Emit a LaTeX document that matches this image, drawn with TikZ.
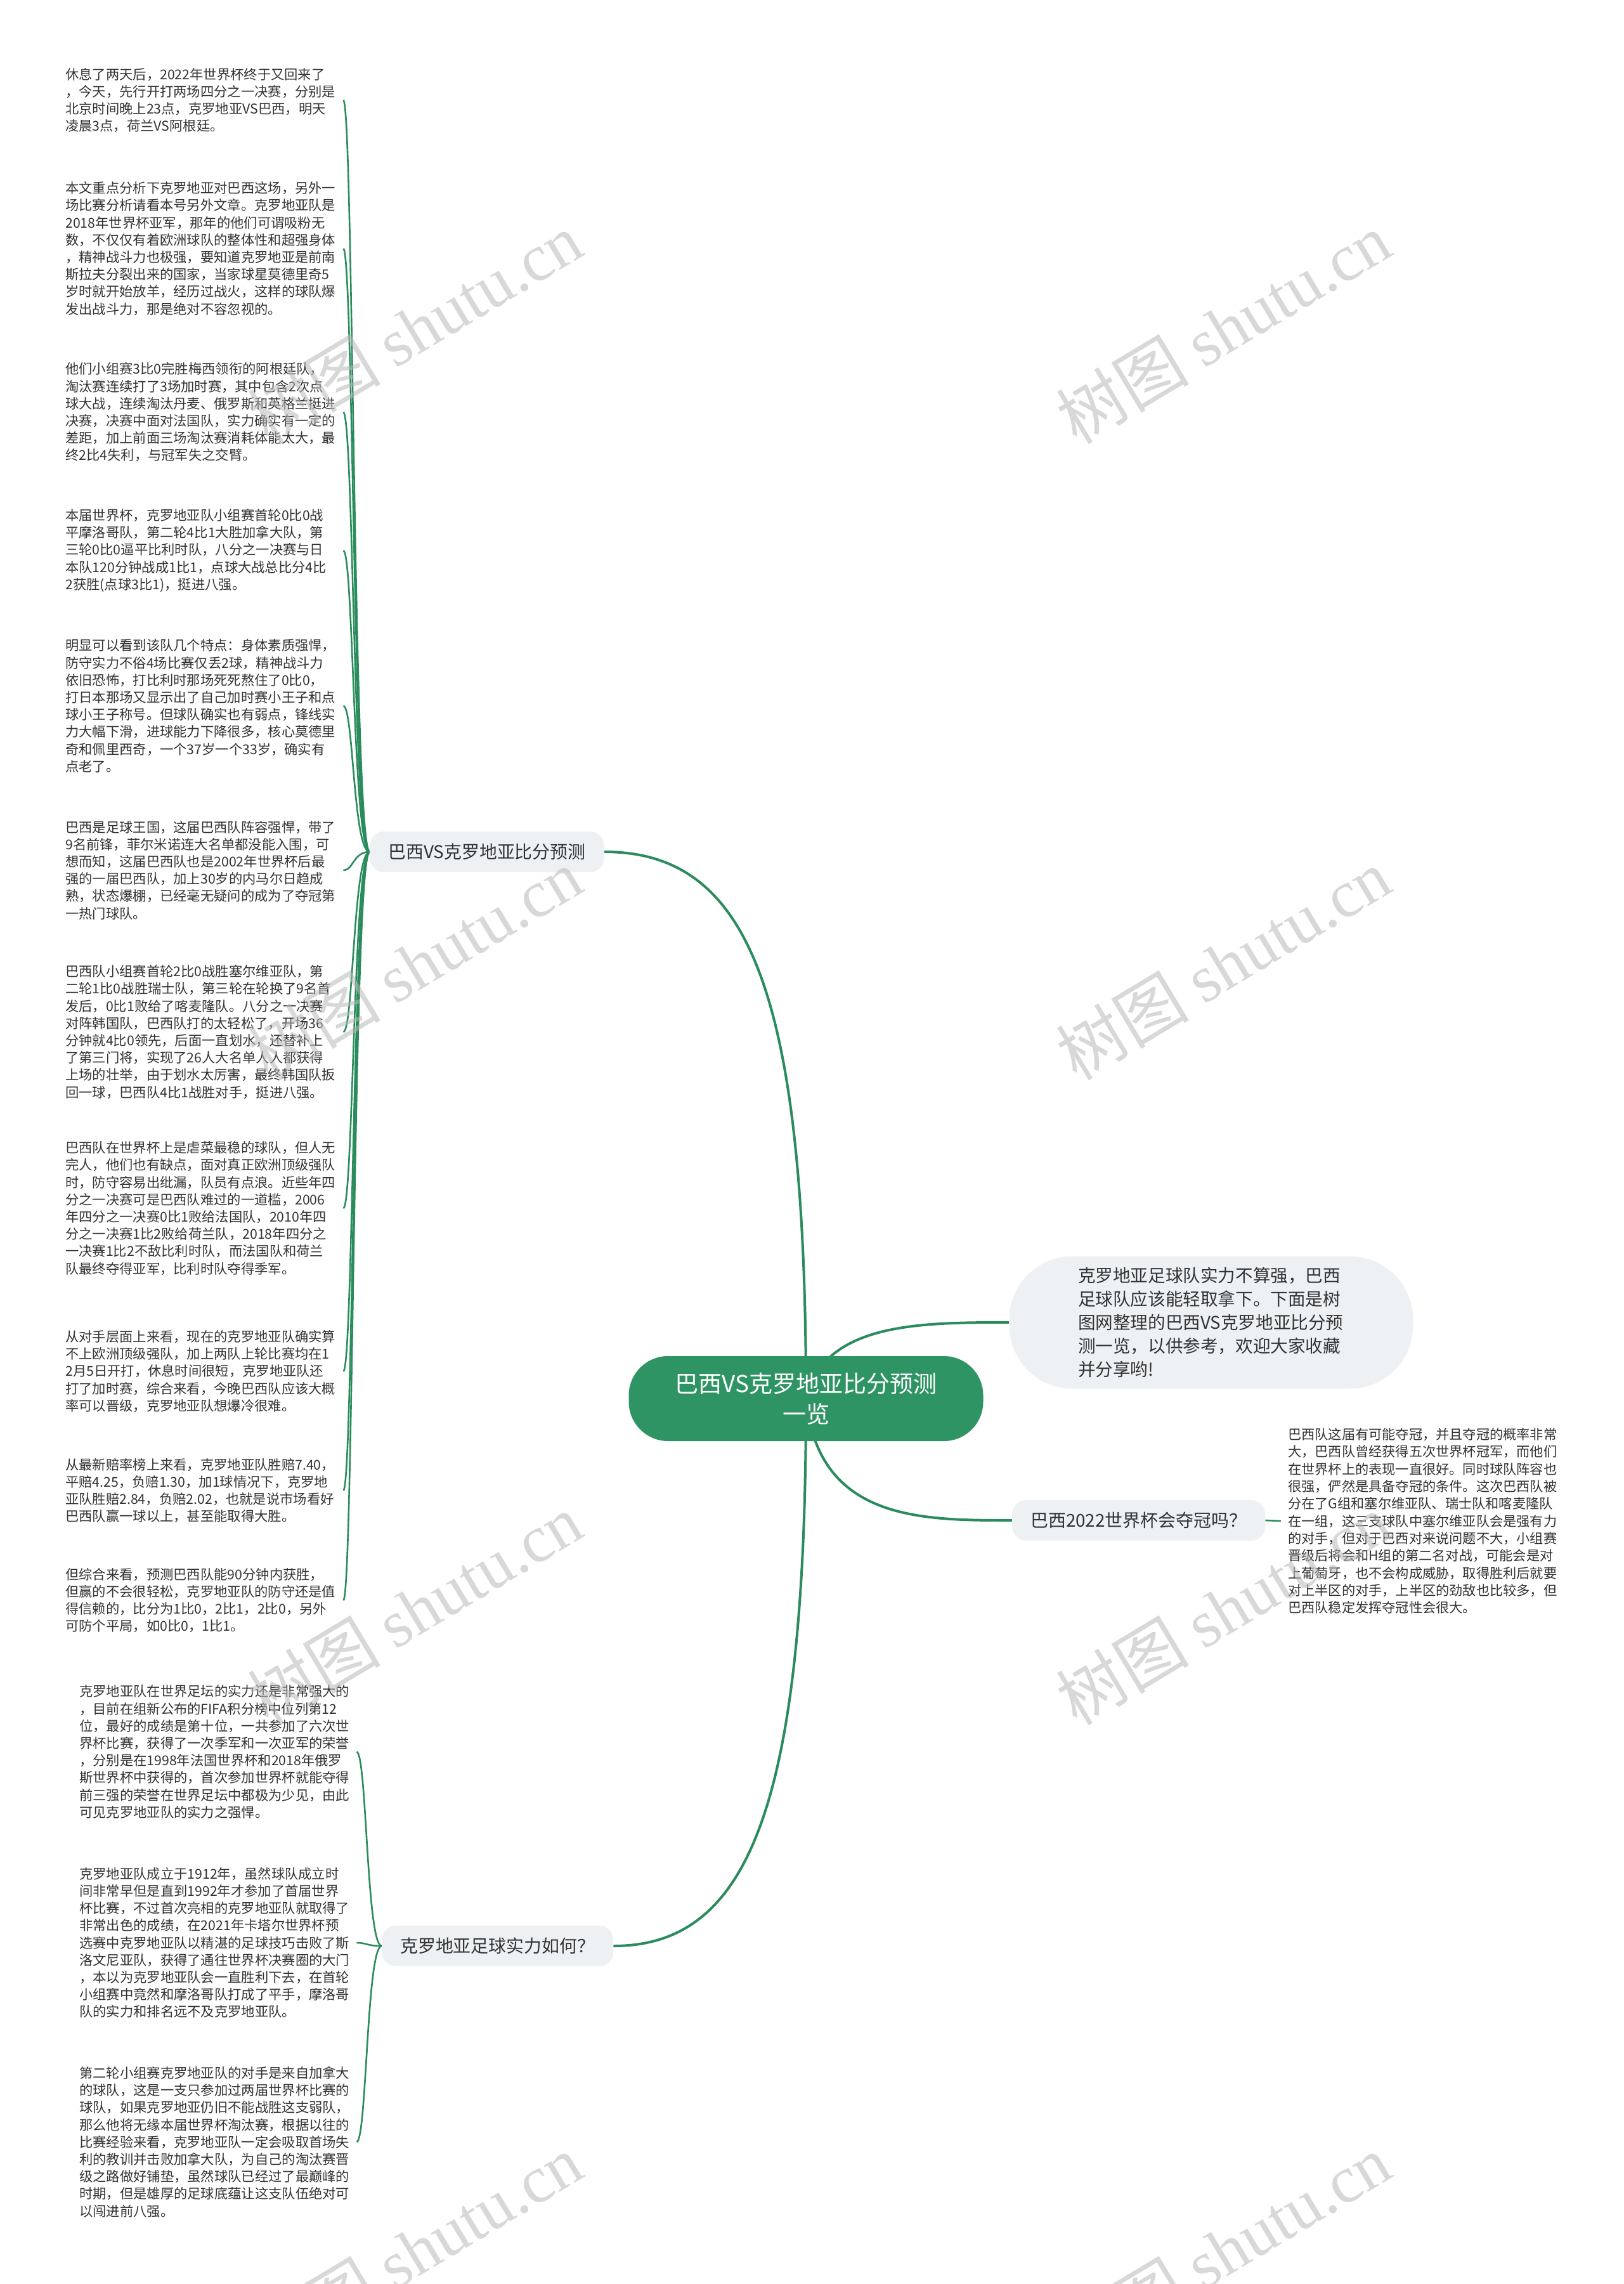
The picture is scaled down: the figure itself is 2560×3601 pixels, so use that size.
\documentclass[tikz,border=0pt]{standalone}
\usepackage{fontspec}
\setmainfont{Noto Sans CJK SC}
\newfontfamily\wmserif{Liberation Serif}
\definecolor{mmgreen}{HTML}{2E9464}
\definecolor{mmline}{HTML}{2A8C5C}
\definecolor{mmgray}{HTML}{EEF1F4}
\definecolor{mmtext}{HTML}{333333}
\definecolor{wmgray}{HTML}{B8B8B8}
\pgfdeclarelayer{bg}
\pgfsetlayers{bg,main}
\begin{document}
\begin{tikzpicture}[x=1pt,y=-1pt,
  leaf/.style={anchor=west, inner sep=0pt, text width=438pt, align=left, font=\fontsize{21.3}{27.2}\selectfont, text=mmtext},
  leafb/.style={leaf, text width=437pt},
  branchbox/.style={fill=mmgray, rounded corners=22pt, minimum height=64pt, inner xsep=29pt, inner ysep=0pt, font=\fontsize{27.9}{34}\selectfont, text=mmtext},
  mainlink/.style={draw=mmline, line width=4pt},
  leaflink/.style={draw=mmline, line width=2.6pt},
  wm/.style={text=wmgray, opacity=0.55, rotate=31, inner sep=0pt, font=\fontsize{105}{110}\selectfont}
]
\begin{pgfonlayer}{bg}
\fill[white] (0,0) rectangle (2560,3601);
\end{pgfonlayer}
\useasboundingbox (0,0) rectangle (2560,3601);

% root and intro
\node[fill=mmgreen, rounded corners=62pt, minimum width=559pt, minimum height=134pt, inner sep=0pt, text=white, align=center, font=\fontsize{37}{48}\selectfont] (root) at (1271,2205) {巴西VS克罗地亚比分预测\\一览};
\node[fill=mmgray, rounded corners=100pt, minimum width=637pt, minimum height=209pt, inner sep=0pt, text width=420pt, align=left, text=mmtext, font=\fontsize{27.6}{36.8}\selectfont] (intro) at (1910,2085) {克罗地亚足球队实力不算强，巴西\\足球队应该能轻取拿下。下面是树\\图网整理的巴西VS克罗地亚比分预\\测一览，以供参考，欢迎大家收藏\\并分享哟!};

% branches
\node[branchbox, anchor=west] (b1) at (583,1343) {巴西VS克罗地亚比分预测};
\node[branchbox, anchor=west] (b2) at (1596,2397) {巴西2022世界杯会夺冠吗？};
\node[branchbox, anchor=west] (b3) at (602,3068) {克罗地亚足球实力如何？};

% branch 1 leaves
\node[leaf] (l1) at (103,158) {休息了两天后，2022年世界杯终于又回来了\\，今天，先行开打两场四分之一决赛，分别是\\北京时间晚上23点，克罗地亚VS巴西，明天\\凌晨3点，荷兰VS阿根廷。};
\node[leaf] (l2) at (103,392) {本文重点分析下克罗地亚对巴西这场，另外一\\场比赛分析请看本号另外文章。克罗地亚队是\\2018年世界杯亚军，那年的他们可谓吸粉无\\数，不仅仅有着欧洲球队的整体性和超强身体\\，精神战斗力也极强，要知道克罗地亚是前南\\斯拉夫分裂出来的国家，当家球星莫德里奇5\\岁时就开始放羊，经历过战火，这样的球队爆\\发出战斗力，那是绝对不容忽视的。};
\node[leaf] (l3) at (103,650) {他们小组赛3比0完胜梅西领衔的阿根廷队，\\淘汰赛连续打了3场加时赛，其中包含2次点\\球大战，连续淘汰丹麦、俄罗斯和英格兰挺进\\决赛，决赛中面对法国队，实力确实有一定的\\差距，加上前面三场淘汰赛消耗体能太大，最\\终2比4失利，与冠军失之交臂。};
\node[leaf] (l4) at (103,868) {本届世界杯，克罗地亚队小组赛首轮0比0战\\平摩洛哥队，第二轮4比1大胜加拿大队，第\\三轮0比0逼平比利时队，八分之一决赛与日\\本队120分钟战成1比1，点球大战总比分4比\\2获胜(点球3比1)，挺进八强。};
\node[leaf] (l5) at (103,1113) {明显可以看到该队几个特点：身体素质强悍，\\防守实力不俗4场比赛仅丢2球，精神战斗力\\依旧恐怖，打比利时那场死死熬住了0比0，\\打日本那场又显示出了自己加时赛小王子和点\\球小王子称号。但球队确实也有弱点，锋线实\\力大幅下滑，进球能力下降很多，核心莫德里\\奇和佩里西奇，一个37岁一个33岁，确实有\\点老了。};
\node[leaf] (l6) at (103,1372) {巴西是足球王国，这届巴西队阵容强悍，带了\\9名前锋，菲尔米诺连大名单都没能入围，可\\想而知，这届巴西队也是2002年世界杯后最\\强的一届巴西队，加上30岁的内马尔日趋成\\熟，状态爆棚，已经毫无疑问的成为了夺冠第\\一热门球队。};
\node[leaf] (l7) at (103,1627) {巴西队小组赛首轮2比0战胜塞尔维亚队，第\\二轮1比0战胜瑞士队，第三轮在轮换了9名首\\发后，0比1败给了喀麦隆队。八分之一决赛\\对阵韩国队，巴西队打的太轻松了，开场36\\分钟就4比0领先，后面一直划水，还替补上\\了第三门将，实现了26人大名单人人都获得\\上场的壮举，由于划水太厉害，最终韩国队扳\\回一球，巴西队4比1战胜对手，挺进八强。};
\node[leaf] (l8) at (103,1905) {巴西队在世界杯上是虐菜最稳的球队，但人无\\完人，他们也有缺点，面对真正欧洲顶级强队\\时，防守容易出纰漏，队员有点浪。近些年四\\分之一决赛可是巴西队难过的一道槛，2006\\年四分之一决赛0比1败给法国队，2010年四\\分之一决赛1比2败给荷兰队，2018年四分之\\一决赛1比2不敌比利时队，而法国队和荷兰\\队最终夺得亚军，比利时队夺得季军。};
\node[leaf] (l9) at (103,2162) {从对手层面上来看，现在的克罗地亚队确实算\\不上欧洲顶级强队，加上两队上轮比赛均在1\\2月5日开打，休息时间很短，克罗地亚队还\\打了加时赛，综合来看，今晚巴西队应该大概\\率可以晋级，克罗地亚队想爆冷很难。};
\node[leaf] (l10) at (103,2350) {从最新赔率榜上来看，克罗地亚队胜赔7.40，\\平赔4.25，负赔1.30，加1球情况下，克罗地\\亚队胜赔2.84，负赔2.02，也就是说市场看好\\巴西队赢一球以上，甚至能取得大胜。};
\node[leaf] (l11) at (103,2523) {但综合来看，预测巴西队能90分钟内获胜，\\但赢的不会很轻松，克罗地亚队的防守还是值\\得信赖的，比分为1比0，2比1，2比0，另外\\可防个平局，如0比0，1比1。};

% branch 2 leaf
\node[anchor=west, inner xsep=11pt, inner ysep=0pt, align=left, font=\fontsize{21.2}{27.3}\selectfont, text=mmtext] (r1) at (2020,2398) {巴西队这届有可能夺冠，并且夺冠的概率非常\\大，巴西队曾经获得五次世界杯冠军，而他们\\在世界杯上的表现一直很好。同时球队阵容也\\很强，俨然是具备夺冠的条件。这次巴西队被\\分在了G组和塞尔维亚队、瑞士队和喀麦隆队\\在一组，这三支球队中塞尔维亚队会是强有力\\的对手，但对于巴西对来说问题不大，小组赛\\晋级后将会和H组的第二名对战，可能会是对\\上葡萄牙，也不会构成威胁，取得胜利后就要\\对上半区的对手，上半区的劲敌也比较多，但\\巴西队稳定发挥夺冠性会很大。};

% branch 3 leaves
\node[leafb] (m1) at (125,2762) {克罗地亚队在世界足坛的实力还是非常强大的\\，目前在组新公布的FIFA积分榜中位列第12\\位，最好的成绩是第十位，一共参加了六次世\\界杯比赛，获得了一次季军和一次亚军的荣誉\\，分别是在1998年法国世界杯和2018年俄罗\\斯世界杯中获得的，首次参加世界杯就能夺得\\前三强的荣誉在世界足坛中都极为少见，由此\\可见克罗地亚队的实力之强悍。};
\node[leafb] (m2) at (125,3063) {克罗地亚队成立于1912年，虽然球队成立时\\间非常早但是直到1992年才参加了首届世界\\杯比赛，不过首次亮相的克罗地亚队就取得了\\非常出色的成绩，在2021年卡塔尔世界杯预\\选赛中克罗地亚队以精湛的足球技巧击败了斯\\洛文尼亚队，获得了通往世界杯决赛圈的大门\\，本以为克罗地亚队会一直胜利下去，在首轮\\小组赛中竟然和摩洛哥队打成了平手，摩洛哥\\队的实力和排名远不及克罗地亚队。};
\node[leafb] (m3) at (125,3377) {第二轮小组赛克罗地亚队的对手是来自加拿大\\的球队，这是一支只参加过两届世界杯比赛的\\球队，如果克罗地亚仍旧不能战胜这支弱队，\\那么他将无缘本届世界杯淘汰赛，根据以往的\\比赛经验来看，克罗地亚队一定会吸取首场失\\利的教训并击败加拿大队，为自己的淘汰赛晋\\级之路做好铺垫，虽然球队已经过了最巅峰的\\时期，但是雄厚的足球底蕴让这支队伍绝对可\\以闯进前八强。};

% connectors
\begin{pgfonlayer}{bg}
\draw[mainlink] (root.center) .. controls (1271,1560) and (1180,1343) .. (b1.east);
\draw[mainlink] (root.center) .. controls (1271,2850) and (1180,3068) .. (b3.east);
\draw[mainlink] (root.center) .. controls (1290,2397) and (1450,2397) .. (b2.west);
\draw[mainlink] (root.center) .. controls (1300,2085) and (1450,2085) .. (intro.west);
\foreach \l in {l1,l2,l3,l4,l5,l6,l7,l8,l9,l10,l11}
  \draw[leaflink] (b1.west) .. controls +(-26,0) and +(16,0) .. (\l.east);
\foreach \l in {m1,m2,m3}
  \draw[leaflink] (b3.west) .. controls +(-24,0) and +(16,0) .. (\l.east);
\draw[leaflink] (b2.east) -- (r1.west);
\end{pgfonlayer}

% watermarks
\node[wm] (w1) at (654,517) {树图 {\wmserif shutu.cn}};
\node[wm] (w2) at (1929,517) {树图 {\wmserif shutu.cn}};
\node[wm] (w3) at (654,1520) {树图 {\wmserif shutu.cn}};
\node[wm] (w4) at (1929,1520) {树图 {\wmserif shutu.cn}};
\node[wm] (w5) at (654,2537) {树图 {\wmserif shutu.cn}};
\node[wm] (w6) at (1929,2537) {树图 {\wmserif shutu.cn}};
\node[wm] (w7) at (654,3547) {树图 {\wmserif shutu.cn}};
\node[wm] (w8) at (1929,3547) {树图 {\wmserif shutu.cn}};
\end{tikzpicture}
\end{document}
